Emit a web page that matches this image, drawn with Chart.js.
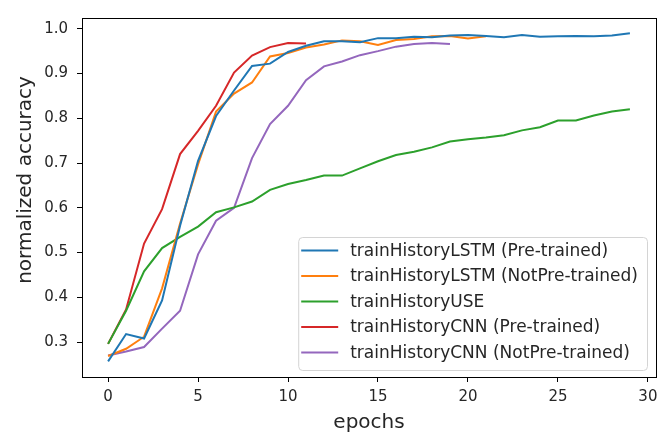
<!DOCTYPE html>
<html>
<head>
<meta charset="utf-8">
<script src="https://cdn.jsdelivr.net/npm/chart.js@4/dist/chart.umd.min.js"></script>
<style>
  html, body { margin: 0; padding: 0; background: #fff; }
  #wrap { width: 672px; height: 440px; }
</style>
</head>
<body>
<div id="wrap"><canvas id="accChart" width="672" height="440"></canvas></div>
<script>
// epochs (x values)
const epochs = [0, 1, 2, 3, 4, 5, 6, 7, 8, 9, 10, 11, 12, 13, 14, 15, 16, 17, 18, 19,
                20, 21, 22, 23, 24, 25, 26, 27, 28, 29];

// 各曲线的数值
const lstmPre = [0.257, 0.318, 0.308, 0.393, 0.560, 0.705, 0.805, 0.862, 0.917, 0.922,
                 0.948, 0.962, 0.972, 0.972, 0.970, 0.979, 0.979, 0.982, 0.981, 0.985,
                 0.986, 0.984, 0.981, 0.986, 0.982, 0.983, 0.984, 0.983, 0.985, 0.990];
const lstmNotPre = [0.269, 0.285, 0.312, 0.420, 0.565, 0.697, 0.815, 0.855, 0.880, 0.938,
                    0.946, 0.958, 0.965, 0.974, 0.972, 0.964, 0.975, 0.977, 0.983, 0.984,
                    0.978, 0.983];
const useHist = [0.296, 0.370, 0.458, 0.510, 0.535, 0.558, 0.590, 0.601, 0.614, 0.640,
                 0.653, 0.662, 0.672, 0.672, 0.688, 0.704, 0.718, 0.725, 0.735, 0.748,
                 0.753, 0.757, 0.762, 0.773, 0.780, 0.795, 0.795, 0.806, 0.815, 0.820];
const cnnPre = [0.296, 0.373, 0.520, 0.597, 0.720, 0.772, 0.828, 0.902, 0.940, 0.959,
                0.968, 0.967];
const cnnNotPre = [0.270, 0.279, 0.289, 0.330, 0.370, 0.496, 0.571, 0.600, 0.711, 0.787,
                   0.828, 0.885, 0.916, 0.927, 0.941, 0.950, 0.960, 0.966, 0.968, 0.966];

const seriesNames = [
    'trainHistoryLSTM (Pre-trained)',
    'trainHistoryLSTM (NotPre-trained)',
    'trainHistoryUSE',
    'trainHistoryCNN (Pre-trained)',
    'trainHistoryCNN (NotPre-trained)'
];

// tick labels
const xTicks = [0, 5, 10, 15, 20, 25, 30];
const yTicks = [0.3, 0.4, 0.5, 0.6, 0.7, 0.8, 0.9, 1.0];

const colors = ['#1f77b4', '#ff7f0e', '#2ca02c', '#d62728', '#9467bd'];
const FONT = 'DejaVu Sans';
const TEXT = '#262626';

function toPoints(values) {
    return values.map((v, i) => ({ x: epochs[i], y: v }));
}

const allSeries = [lstmPre, lstmNotPre, useHist, cnnPre, cnnNotPre];

// 边框 + y轴标题 + 图例 (matplotlib 风格)
const framePlugin = {
    id: 'frameLegend',
    afterDraw(chart) {
        const { ctx, chartArea: a } = chart;
        ctx.save();
        ctx.strokeStyle = '#000';
        ctx.lineWidth = 1;
        ctx.strokeRect(Math.round(a.left) + 0.5, Math.round(a.top) + 0.5,
                       Math.round(a.right - a.left), Math.round(a.bottom - a.top));

        // y axis title
        ctx.save();
        ctx.translate(26, 180);
        ctx.rotate(-Math.PI / 2);
        ctx.font = '20px "' + FONT + '"';
        ctx.fillStyle = TEXT;
        ctx.textAlign = 'center';
        ctx.textBaseline = 'middle';
        ctx.fillText('normalized accuracy', 0, 0);
        ctx.restore();

        // legend
        const fs = 17;
        ctx.font = fs + 'px "' + FONT + '"';
        const rowH = 25.5;
        const handle = 37;
        const padL = 3;
        const gap = 12;
        const padR = 9;
        let maxW = 0;
        chart.data.datasets.forEach(ds => { maxW = Math.max(maxW, ctx.measureText(ds.label).width); });
        const boxW = padL + handle + gap + maxW + padR;
        const boxH = 133;
        const bx = a.right - 9 - boxW;
        const by = a.bottom - 7 - boxH;
        ctx.beginPath();
        ctx.roundRect(bx + 0.5, by + 0.5, boxW, boxH, 4);
        ctx.fillStyle = 'rgba(255,255,255,0.8)';
        ctx.fill();
        ctx.strokeStyle = '#d4d4d4';
        ctx.lineWidth = 1;
        ctx.stroke();
        chart.data.datasets.forEach((ds, i) => {
            const y = by + 13.5 + i * rowH;
            ctx.beginPath();
            ctx.moveTo(bx + padL, y);
            ctx.lineTo(bx + padL + handle, y);
            ctx.strokeStyle = ds.borderColor;
            ctx.lineWidth = 2;
            ctx.stroke();
            ctx.fillStyle = TEXT;
            ctx.textBaseline = 'middle';
            ctx.fillText(ds.label, bx + padL + handle + gap, y + 1);
        });
        ctx.restore();
    }
};

const ctx = document.getElementById('accChart').getContext('2d');
new Chart(ctx, {
    type: 'line',
    data: {
        datasets: allSeries.map((vals, i) => ({
            label: seriesNames[i],
            data: toPoints(vals),
            borderColor: colors[i],
            backgroundColor: colors[i],
            borderWidth: 2,
            pointRadius: 0,
            tension: 0,
            fill: false
        }))
    },
    options: {
        responsive: false,
        animation: false,
        layout: { padding: { left: 0, right: 16, top: 5, bottom: 0 } },
        scales: {
            x: {
                type: 'linear',
                min: -1.45,
                max: 30.45,
                afterBuildTicks(scale) { scale.ticks = xTicks.map(v => ({ value: v })); },
                afterFit(scale) { scale.height = 63; },
                border: { display: false },
                grid: { display: true, drawOnChartArea: false, tickLength: 5, color: '#000' },
                ticks: {
                    padding: 6,
                    color: TEXT,
                    font: { family: FONT, size: 15 },
                    maxRotation: 0,
                    callback: v => String(v)
                },
                title: {
                    display: true,
                    text: 'epochs',
                    color: TEXT,
                    font: { family: FONT, size: 20 },
                    padding: { top: 0, bottom: 5 }
                }
            },
            y: {
                type: 'linear',
                min: 0.222,
                max: 1.024,
                afterBuildTicks(scale) { scale.ticks = yTicks.map(v => ({ value: v })); },
                afterFit(scale) { scale.width = 82; },
                border: { display: false },
                grid: { display: true, drawOnChartArea: false, tickLength: 5, color: '#000' },
                ticks: {
                    padding: 9,
                    color: TEXT,
                    font: { family: FONT, size: 15 },
                    callback: v => v.toFixed(1)
                }
            }
        },
        plugins: {
            legend: { display: false },
            tooltip: { enabled: false }
        }
    },
    plugins: [framePlugin]
});
</script>
</body>
</html>
